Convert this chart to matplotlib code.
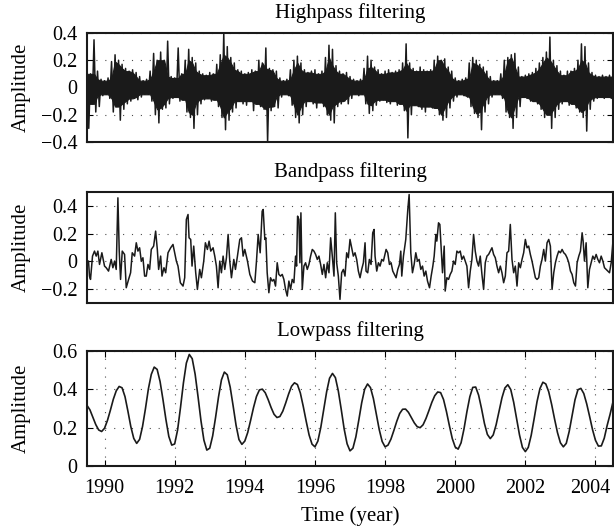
import numpy as np
import matplotlib
matplotlib.use('Agg')
import matplotlib.pyplot as plt
from matplotlib.transforms import ScaledTranslation

plt.rcParams['font.family'] = ['Liberation Serif', 'DejaVu Serif']
plt.rcParams['font.size'] = 15

# highpass: upper / lower swing of the signal, every 0.1 year from 1989.5
hp_start = 1989.5
hp_upper = [0.14, 0.10, 0.35, 0.12, 0.06, 0.05, 0.07, 0.19, 0.24, 0.20,
            0.17, 0.14, 0.12, 0.13, 0.11, 0.08, 0.05, 0.06, 0.12, 0.25,
            0.20, 0.26, 0.20, 0.34, 0.08, 0.07, 0.29, 0.10, 0.20, 0.28,
            0.22, 0.18, 0.12, 0.10, 0.09, 0.11, 0.10, 0.17, 0.24, 0.40,
            0.30, 0.22, 0.18, 0.13, 0.12, 0.10, 0.11, 0.13, 0.12, 0.20,
            0.18, 0.29, 0.14, 0.13, 0.12, 0.07, 0.05, 0.06, 0.13, 0.20,
            0.23, 0.18, 0.13, 0.11, 0.12, 0.13, 0.10, 0.12, 0.22, 0.31,
            0.28, 0.16, 0.12, 0.10, 0.11, 0.08, 0.06, 0.05, 0.06, 0.14,
            0.23, 0.20, 0.15, 0.13, 0.10, 0.12, 0.13, 0.11, 0.12, 0.13,
            0.18, 0.32, 0.18, 0.14, 0.12, 0.15, 0.13, 0.12, 0.13, 0.20,
            0.23, 0.20, 0.21, 0.15, 0.12, 0.07, 0.05, 0.06, 0.07, 0.18,
            0.22, 0.20, 0.17, 0.15, 0.12, 0.08, 0.05, 0.05, 0.10, 0.20,
            0.22, 0.24, 0.25, 0.15, 0.08, 0.09, 0.10, 0.11, 0.14, 0.18,
            0.22, 0.26, 0.37, 0.20, 0.16, 0.12, 0.09, 0.12, 0.12, 0.14,
            0.20, 0.32, 0.30, 0.18, 0.11, 0.09, 0.08, 0.09, 0.08, 0.09,
            0.08]
hp_lower = [-0.30, -0.12, -0.18, -0.14, -0.06, -0.05, -0.08, -0.18, -0.14, -0.24,
            -0.16, -0.12, -0.10, -0.08, -0.09, -0.07, -0.05, -0.05, -0.10, -0.20,
            -0.26, -0.16, -0.15, -0.12, -0.08, -0.07, -0.10, -0.09, -0.18, -0.22,
            -0.30, -0.20, -0.12, -0.09, -0.08, -0.10, -0.09, -0.14, -0.22, -0.31,
            -0.24, -0.18, -0.15, -0.10, -0.12, -0.13, -0.10, -0.17, -0.12, -0.14,
            -0.16, -0.40, -0.17, -0.14, -0.15, -0.07, -0.05, -0.06, -0.13, -0.22,
            -0.26, -0.20, -0.14, -0.10, -0.12, -0.15, -0.11, -0.14, -0.20, -0.24,
            -0.26, -0.14, -0.12, -0.10, -0.12, -0.08, -0.05, -0.06, -0.05, -0.12,
            -0.19, -0.17, -0.13, -0.10, -0.09, -0.11, -0.12, -0.10, -0.13, -0.12,
            -0.17, -0.37, -0.20, -0.13, -0.14, -0.16, -0.18, -0.14, -0.15, -0.15,
            -0.20, -0.24, -0.22, -0.15, -0.10, -0.07, -0.05, -0.06, -0.07, -0.14,
            -0.19, -0.22, -0.31, -0.18, -0.12, -0.07, -0.05, -0.05, -0.08, -0.18,
            -0.22, -0.30, -0.22, -0.14, -0.07, -0.08, -0.10, -0.10, -0.12, -0.16,
            -0.22, -0.20, -0.30, -0.22, -0.16, -0.12, -0.10, -0.13, -0.12, -0.15,
            -0.18, -0.22, -0.32, -0.16, -0.10, -0.08, -0.07, -0.08, -0.07, -0.08,
            -0.07]

# bandpass: (time, amplitude) vertices
band_t = [1989.486, 1989.543, 1989.571, 1989.600, 1989.657, 1989.714, 1989.762, 1989.810,
          1989.857, 1989.924, 1990.000, 1990.048, 1990.114, 1990.190, 1990.238, 1990.286,
          1990.333, 1990.381, 1990.419, 1990.457, 1990.505, 1990.571, 1990.619, 1990.686,
          1990.743, 1990.790, 1990.857, 1990.905, 1990.952, 1991.000, 1991.048, 1991.095,
          1991.143, 1991.190, 1991.238, 1991.286, 1991.333, 1991.400, 1991.457, 1991.505,
          1991.543, 1991.600, 1991.638, 1991.695, 1991.743, 1991.810, 1991.886, 1991.952,
          1992.000, 1992.048, 1992.095, 1992.162, 1992.238, 1992.286, 1992.333, 1992.381,
          1992.410, 1992.457, 1992.495, 1992.543, 1992.600, 1992.648, 1992.714, 1992.762,
          1992.829, 1992.876, 1992.933, 1992.981, 1993.029, 1993.095, 1993.143, 1993.190,
          1993.238, 1993.286, 1993.333, 1993.381, 1993.429, 1993.476, 1993.524, 1993.571,
          1993.619, 1993.686, 1993.733, 1993.790, 1993.857, 1993.905, 1993.952, 1994.000,
          1994.076, 1994.143, 1994.219, 1994.286, 1994.333, 1994.381, 1994.438, 1994.495,
          1994.524, 1994.571, 1994.600, 1994.638, 1994.686, 1994.733, 1994.781, 1994.829,
          1994.876, 1994.924, 1994.971, 1995.019, 1995.067, 1995.114, 1995.162, 1995.210,
          1995.257, 1995.305, 1995.352, 1995.400, 1995.448, 1995.476, 1995.505, 1995.543,
          1995.571, 1995.600, 1995.638, 1995.686, 1995.733, 1995.781, 1995.829, 1995.876,
          1995.924, 1995.971, 1996.019, 1996.067, 1996.114, 1996.162, 1996.210, 1996.257,
          1996.305, 1996.352, 1996.400, 1996.448, 1996.495, 1996.543, 1996.581, 1996.619,
          1996.667, 1996.714, 1996.762, 1996.810, 1996.857, 1996.905, 1996.952, 1997.000,
          1997.048, 1997.095, 1997.143, 1997.190, 1997.238, 1997.286, 1997.333, 1997.381,
          1997.429, 1997.457, 1997.505, 1997.552, 1997.600, 1997.648, 1997.686, 1997.714,
          1997.762, 1997.810, 1997.857, 1997.905, 1997.952, 1998.029, 1998.076, 1998.124,
          1998.171, 1998.219, 1998.267, 1998.314, 1998.362, 1998.410, 1998.448, 1998.476,
          1998.524, 1998.590, 1998.648, 1998.686, 1998.733, 1998.781, 1998.829, 1998.876,
          1998.924, 1998.971, 1999.019, 1999.067, 1999.114, 1999.162, 1999.210, 1999.267,
          1999.314, 1999.362, 1999.400, 1999.448, 1999.476, 1999.524, 1999.562, 1999.600,
          1999.638, 1999.686, 1999.714, 1999.762, 1999.810, 1999.857, 1999.905, 1999.952,
          2000.000, 2000.048, 2000.095, 2000.143, 2000.190, 2000.238, 2000.286, 2000.333,
          2000.381, 2000.429, 2000.476, 2000.524, 2000.571, 2000.619, 2000.667, 2000.714,
          2000.762, 2000.810, 2000.857, 2000.905, 2000.952, 2001.000, 2001.048, 2001.095,
          2001.143, 2001.190, 2001.238, 2001.286, 2001.333, 2001.381, 2001.429, 2001.476,
          2001.524, 2001.571, 2001.619, 2001.667, 2001.714, 2001.762, 2001.810, 2001.857,
          2001.905, 2001.952, 2002.000, 2002.048, 2002.095, 2002.143, 2002.190, 2002.238,
          2002.286, 2002.333, 2002.381, 2002.429, 2002.476, 2002.524, 2002.571, 2002.619,
          2002.667, 2002.714, 2002.762, 2002.810, 2002.857, 2002.905, 2002.952, 2003.000,
          2003.048, 2003.095, 2003.143, 2003.190, 2003.238, 2003.286, 2003.333, 2003.381,
          2003.429, 2003.476, 2003.524, 2003.571, 2003.619, 2003.648, 2003.686, 2003.733,
          2003.781, 2003.829, 2003.876, 2003.924, 2003.971, 2004.019, 2004.067, 2004.114,
          2004.162, 2004.210, 2004.257, 2004.305, 2004.352, 2004.400, 2004.448, 2004.495]
band_v = [0.002, 0.002, -0.106, -0.130, 0.038, 0.074, 0.038, 0.074,
          -0.022, 0.062, -0.034, -0.046, -0.070, 0.014, -0.046, 0.002,
          -0.058, 0.458, 0.074, -0.130, 0.074, 0.050, -0.190, -0.130,
          -0.082, 0.062, 0.038, 0.134, 0.074, 0.098, 0.002, 0.026,
          -0.106, -0.106, -0.022, -0.058, 0.086, 0.110, 0.218, 0.086,
          -0.058, 0.038, -0.106, -0.046, -0.082, 0.062, 0.098, 0.122,
          0.062, 0.002, -0.034, -0.154, -0.178, -0.118, 0.302, 0.338,
          0.170, 0.158, -0.034, 0.110, -0.082, -0.202, -0.058, -0.118,
          0.002, 0.134, 0.086, 0.146, 0.074, 0.098, 0.038, -0.034,
          -0.190, 0.002, -0.082, 0.038, -0.058, 0.026, 0.194, 0.002,
          -0.118, 0.014, -0.058, 0.038, 0.158, 0.170, 0.038, 0.086,
          0.002, -0.094, -0.142, -0.154, 0.002, 0.194, 0.062, 0.362,
          0.374, 0.158, 0.170, -0.082, -0.226, -0.118, -0.142, -0.130,
          -0.178, -0.010, -0.094, -0.106, -0.094, -0.130, -0.202, -0.250,
          -0.142, -0.202, -0.130, -0.154, 0.038, -0.034, 0.326, 0.302,
          -0.010, 0.350, -0.202, -0.034, -0.010, -0.058, -0.022, 0.038,
          0.086, 0.074, 0.050, 0.014, 0.038, -0.022, -0.094, -0.022,
          -0.118, -0.010, -0.082, 0.170, 0.038, -0.106, 0.350, -0.010,
          -0.106, -0.274, -0.082, -0.058, -0.106, 0.062, 0.026, 0.158,
          0.098, 0.038, 0.062, 0.014, -0.070, -0.118, -0.058, -0.010,
          0.134, -0.070, -0.082, 0.014, -0.022, 0.206, 0.230, 0.038,
          -0.070, -0.010, -0.034, 0.014, 0.002, 0.086, 0.062, -0.022,
          -0.010, -0.070, -0.094, -0.118, -0.058, -0.022, 0.074, -0.106,
          0.038, 0.158, 0.374, 0.482, 0.062, -0.082, -0.022, 0.062,
          0.002, 0.014, -0.058, -0.034, -0.106, -0.070, -0.142, -0.190,
          -0.106, -0.034, 0.038, 0.194, 0.146, 0.278, 0.266, 0.098,
          -0.082, 0.110, -0.214, -0.118, -0.130, -0.094, -0.070, 0.002,
          -0.022, 0.074, 0.062, 0.074, 0.014, 0.038, 0.002, -0.034,
          -0.190, -0.070, 0.014, 0.194, 0.074, 0.002, -0.034, 0.038,
          -0.094, -0.202, -0.010, 0.038, 0.050, 0.074, 0.098, 0.050,
          0.026, -0.034, -0.082, -0.034, -0.082, -0.154, -0.106, 0.062,
          0.074, 0.266, 0.014, -0.082, -0.034, -0.178, -0.010, -0.046,
          0.014, 0.062, 0.158, 0.098, 0.110, 0.050, 0.002, -0.058,
          -0.118, -0.130, -0.118, -0.034, 0.014, 0.086, 0.002, 0.134,
          0.158, 0.110, -0.202, -0.082, -0.010, 0.038, 0.074, 0.062,
          0.086, 0.062, 0.050, 0.026, -0.010, -0.070, -0.094, -0.154,
          -0.178, -0.010, 0.038, 0.074, 0.206, 0.146, 0.002, 0.134,
          -0.190, -0.058, -0.010, 0.038, 0.014, 0.050, 0.014, -0.010,
          0.038, 0.002, -0.046, -0.058, -0.070, -0.082, -0.010, 0.134]

# lowpass: monthly values from 1989.5 (one row per year)
low_start = 1989.5
lowpass = [0.316, 0.293, 0.254, 0.216, 0.188, 0.180, 0.197, 0.238, 0.291, 0.348, 0.392, 0.415,
           0.408, 0.362, 0.286, 0.205, 0.144, 0.118, 0.139, 0.206, 0.299, 0.402, 0.478, 0.516,
           0.504, 0.441, 0.346, 0.243, 0.154, 0.109, 0.115, 0.188, 0.306, 0.434, 0.537, 0.582,
           0.560, 0.479, 0.361, 0.236, 0.135, 0.083, 0.093, 0.157, 0.254, 0.360, 0.449, 0.490,
           0.476, 0.411, 0.314, 0.213, 0.138, 0.113, 0.130, 0.175, 0.239, 0.306, 0.363, 0.397,
           0.401, 0.382, 0.346, 0.305, 0.270, 0.253, 0.258, 0.286, 0.329, 0.376, 0.416, 0.434,
           0.425, 0.381, 0.311, 0.234, 0.162, 0.114, 0.100, 0.130, 0.201, 0.295, 0.387, 0.458,
           0.483, 0.461, 0.391, 0.295, 0.193, 0.116, 0.079, 0.093, 0.152, 0.239, 0.330, 0.400,
           0.428, 0.409, 0.352, 0.272, 0.190, 0.128, 0.100, 0.109, 0.140, 0.185, 0.233, 0.274,
           0.296, 0.297, 0.280, 0.253, 0.225, 0.205, 0.200, 0.215, 0.248, 0.289, 0.332, 0.367,
           0.386, 0.383, 0.347, 0.284, 0.211, 0.143, 0.099, 0.088, 0.121, 0.193, 0.283, 0.361,
           0.410, 0.412, 0.370, 0.300, 0.222, 0.165, 0.143, 0.162, 0.215, 0.286, 0.356, 0.407,
           0.424, 0.399, 0.333, 0.247, 0.162, 0.097, 0.075, 0.097, 0.160, 0.246, 0.336, 0.404,
           0.437, 0.428, 0.387, 0.321, 0.245, 0.174, 0.121, 0.100, 0.118, 0.180, 0.263, 0.346,
           0.398, 0.405, 0.378, 0.324, 0.258, 0.189, 0.134, 0.104, 0.105, 0.145, 0.212, 0.270,
           0.335]

year_ticks = [1990, 1992, 1994, 1996, 1998, 2000, 2002, 2004]
hp_yticks = [-0.4, -0.2, 0, 0.2, 0.4]
hp_ylabels = ['\u22120.4', '\u22120.2', '0', '0.2', '0.4']
bp_yticks = [-0.2, 0, 0.2, 0.4]
bp_ylabels = ['\u22120.2', '0', '0.2', '0.4']
lp_yticks = [0, 0.2, 0.4, 0.6]
lp_ylabels = ['0', '0.2', '0.4', '0.6']

ink = '#1a1a1a'
dots = (0, (1, 7))


def style(ax, ylim, yticks, ylabels, title, xgrid=False):
    ax.set_xlim(1989.5, 2004.5)
    ax.set_ylim(*ylim)
    ax.set_yticks(yticks)
    ax.set_yticklabels(ylabels)
    ax.tick_params(direction='in', top=True, right=True, length=4, width=0.8,
                   labelsize=14.5)
    ax.tick_params(axis='y', pad=7)
    ax.tick_params(axis='x', pad=9)
    for sp in ax.spines.values():
        sp.set_linewidth(1.5)
        sp.set_color(ink)
    ax.grid(True, axis='both' if xgrid else 'y', linestyle=dots,
            color='0.3', linewidth=0.8)
    ax.set_axisbelow(True)
    ax.set_ylabel('Amplitude', fontsize=15)
    ax.yaxis.set_label_coords(-0.106, 0.5)
    ax.set_title(title, fontsize=15, pad=11)


fig = plt.figure(figsize=(6.14, 5.31), dpi=100)
ax1 = fig.add_axes([0.1417, 0.7326, 0.8567, 0.2053])
ax2 = fig.add_axes([0.1417, 0.4294, 0.8567, 0.2090])
ax3 = fig.add_axes([0.1417, 0.1224, 0.8567, 0.2166])

# highpass: solid body where neighbouring swings overlap, single swings on top
t_hp = hp_start + 0.1 * np.arange(len(hp_upper))
up = np.array(hp_upper)
lo = np.array(hp_lower)
up_pad = np.pad(up, 1, mode='edge')
lo_pad = np.pad(lo, 1, mode='edge')
body_up = np.minimum.reduce([up_pad[:-2], up_pad[1:-1], up_pad[2:]])
body_lo = np.maximum.reduce([lo_pad[:-2], lo_pad[1:-1], lo_pad[2:]])
ax1.fill_between(t_hp, body_lo, body_up, color=ink, linewidth=0.8)
x_hp = np.column_stack([t_hp, t_hp + 0.05]).ravel()
y_hp = np.column_stack([up, lo]).ravel()
ax1.plot(x_hp, y_hp, color=ink, linewidth=1.1)
style(ax1, (-0.4, 0.4), hp_yticks, hp_ylabels, 'Highpass filtering')
ax1.set_xticks([])

ax2.plot(band_t, band_v, color=ink, linewidth=1.1)
style(ax2, (-0.3, 0.5), bp_yticks, bp_ylabels, 'Bandpass filtering')
ax2.set_xticks([])

t_low = low_start + np.arange(len(lowpass)) / 12
ax3.plot(t_low, lowpass, color=ink, linewidth=1.2)
style(ax3, (0, 0.6), lp_yticks, lp_ylabels, 'Lowpass filtering', xgrid=True)
ax3.set_xticks(year_ticks)
ax3.set_xticklabels([str(y) for y in year_ticks])
ax3.set_xlabel('Time (year)', fontsize=15, labelpad=6)

# keep the last year label inside the figure edge
last = ax3.get_xticklabels()[-1]
last.set_transform(last.get_transform() + ScaledTranslation(-4 / 72, 0, fig.dpi_scale_trans))

fig.savefig('out.png', dpi=100)
